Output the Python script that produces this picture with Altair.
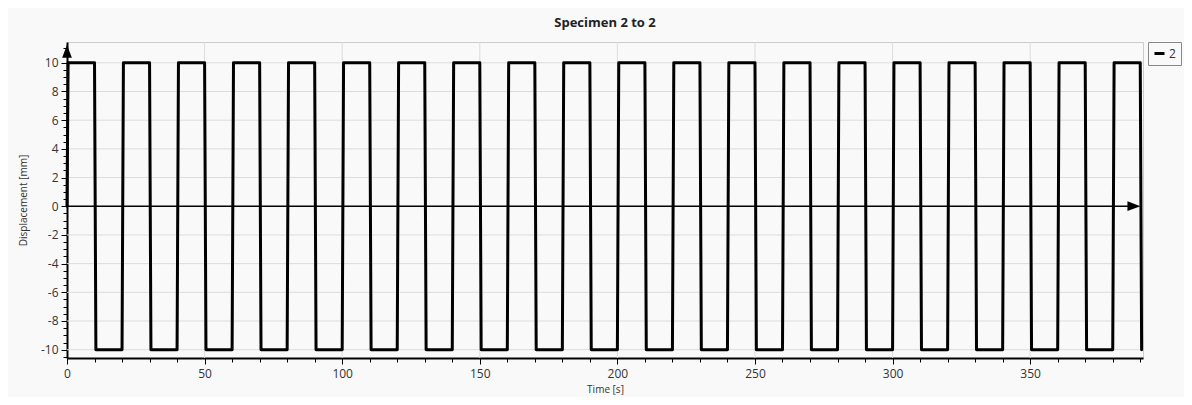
import altair as alt
import pandas as pd

# Square-wave corner points
time_s = [0, 0.4, 10, 10.5, 20, 20.5, 30, 30.5, 40, 40.5, 50, 50.5, 60, 60.5,
          70, 70.5, 80, 80.5, 90, 90.5, 100, 100.5, 110, 110.5, 120, 120.5,
          130, 130.5, 140, 140.5, 150, 150.5, 160, 160.5, 170, 170.5, 180,
          180.5, 190, 190.5, 200, 200.5, 210, 210.5, 220, 220.5, 230, 230.5,
          240, 240.5, 250, 250.5, 260, 260.5, 270, 270.5, 280, 280.5, 290,
          290.5, 300, 300.5, 310, 310.5, 320, 320.5, 330, 330.5, 340, 340.5,
          350, 350.5, 360, 360.5, 370, 370.5, 380, 380.5, 390, 390.5]
displacement_mm = [0,
                   10, 10, -10, -10, 10, 10, -10, -10, 10, 10, -10, -10,
                   10, 10, -10, -10, 10, 10, -10, -10, 10, 10, -10, -10,
                   10, 10, -10, -10, 10, 10, -10, -10, 10, 10, -10, -10,
                   10, 10, -10, -10, 10, 10, -10, -10, 10, 10, -10, -10,
                   10, 10, -10, -10, 10, 10, -10, -10, 10, 10, -10, -10,
                   10, 10, -10, -10, 10, 10, -10, -10, 10, 10, -10, -10,
                   10, 10, -10, -10, 10, 10, -10]
series_name = ["2"] * len(time_s)

x_tick_values = [0, 10, 20, 30, 40, 50, 60, 70, 80, 90, 100, 110, 120, 130,
                 140, 150, 160, 170, 180, 190, 200, 210, 220, 230, 240, 250,
                 260, 270, 280, 290, 300, 310, 320, 330, 340, 350, 360, 370,
                 380, 390]
y_tick_values = [-10.5, -10, -9.5, -9, -8.5, -8, -7.5, -7, -6.5, -6, -5.5, -5,
                 -4.5, -4, -3.5, -3, -2.5, -2, -1.5, -1, -0.5, 0, 0.5, 1, 1.5,
                 2, 2.5, 3, 3.5, 4, 4.5, 5, 5.5, 6, 6.5, 7, 7.5, 8, 8.5, 9,
                 9.5, 10, 10.5, 11]
x_grid_values = [50, 100, 150, 200, 250, 300, 350]
y_grid_values = [-10, -8, -6, -4, -2, 2, 4, 6, 8, 10]

# Axis arrows (data coordinates)
y_arrow_x = [0]
y_arrow_y = [10.8]
x_arrow_x = [387.7]
x_arrow_y = [0]
zero_line_start = [0]
zero_line_end = [386]
zero_line_y = [0]

FONT = "Open Sans"

df = pd.DataFrame({"t": time_s, "d": displacement_mm, "s": series_name})
df_zero = pd.DataFrame({"t": zero_line_start, "t2": zero_line_end, "d": zero_line_y})
df_yarrow = pd.DataFrame({"t": y_arrow_x, "d": y_arrow_y})
df_xarrow = pd.DataFrame({"t": x_arrow_x, "d": x_arrow_y})
df_xgrid = pd.DataFrame({"t": x_grid_values})
df_ygrid = pd.DataFrame({"d": y_grid_values})

x_scale = alt.Scale(domain=[0, 391], nice=False, zero=False)
y_scale = alt.Scale(domain=[-10.58, 11.45], nice=False, zero=False)

x_axis = alt.Axis(
    title="Time [s]",
    values=x_tick_values,
    labelExpr="datum.value % 50 === 0 ? '' + datum.value : ''",
    tickSize={"condition": {"test": "datum.value % 50 === 0", "value": 6}, "value": 4},
    grid=False,
    domainColor="black", domainWidth=2, tickColor="black", tickWidth=1,
    labelFont=FONT, labelFontSize=12, labelColor="#333333", labelPadding=4,
    labelFlush=False, labelOverlap=False,
    titleFont=FONT, titleFontSize=10, titleFontWeight="normal",
    titleColor="#333333", titlePadding=5,
)
y_axis = alt.Axis(
    title="Displacement [mm]",
    values=y_tick_values,
    labelExpr="datum.value % 2 === 0 ? '' + datum.value : ''",
    tickSize={"condition": {"test": "datum.value % 2 === 0", "value": 6}, "value": 4},
    grid=False,
    domainColor="black", domainWidth=2, tickColor="black", tickWidth=1,
    labelFont=FONT, labelFontSize=12, labelColor="#333333", labelPadding=3,
    labelFlush=False, labelOverlap=False,
    titleFont=FONT, titleFontSize=10, titleFontWeight="normal",
    titleColor="#333333", titlePadding=12,
)

X = alt.X("t:Q", scale=x_scale, axis=x_axis)
Y = alt.Y("d:Q", scale=y_scale, axis=y_axis)

xgrid = alt.Chart(df_xgrid).mark_rule(color="#dcdcdc", strokeWidth=1).encode(x=X)
ygrid = alt.Chart(df_ygrid).mark_rule(color="#dcdcdc", strokeWidth=1).encode(y=Y)

wave = alt.Chart(df).mark_line(strokeWidth=3, strokeJoin="round", strokeCap="round").encode(
    x=X,
    y=Y,
    color=alt.Color(
        "s:N",
        scale=alt.Scale(domain=["2"], range=["black"]),
        legend=alt.Legend(
            title=None, orient="none", legendX=1081, legendY=0,
            symbolType="stroke", symbolStrokeWidth=3, symbolSize=100,
            symbolStrokeColor="black",
            labelFont=FONT, labelFontSize=12, labelColor="#333333",
            strokeColor="#888888", padding=5, labelOffset=3,
        ),
    ),
    order=alt.Order("t:Q"),
)

zero = alt.Chart(df_zero).mark_rule(color="black", strokeWidth=1.5).encode(
    x=X, x2="t2:Q", y=Y,
)

up_arrow = alt.Chart(df_yarrow).mark_point(
    shape="M0,-1L0.75,1L-0.75,1Z", size=169, filled=True, color="black", opacity=1, strokeWidth=0
).encode(x=X, y=Y)

right_arrow = alt.Chart(df_xarrow).mark_point(
    shape="M1,0L-1,-0.75L-1,0.75Z", size=169, filled=True, color="black", opacity=1, strokeWidth=0
).encode(x=X, y=Y)

chart = alt.layer(xgrid, ygrid, wave, zero, up_arrow, right_arrow).properties(
    width=1076,
    height=316,
    padding={"left": 59, "top": 34, "right": 41, "bottom": 39},
    autosize=alt.AutoSizeParams(type="none"),
    title=alt.TitleParams(
        "Specimen 2 to 2", font=FONT, fontSize=13, fontWeight="bold",
        color="#222222", offset=12, anchor="middle", frame="group",
    ),
).configure(background="#f9f9f9").configure_view(stroke="#cccccc", strokeWidth=1)

chart.save("out.html", embed_options={"renderer": "svg", "actions": False})
